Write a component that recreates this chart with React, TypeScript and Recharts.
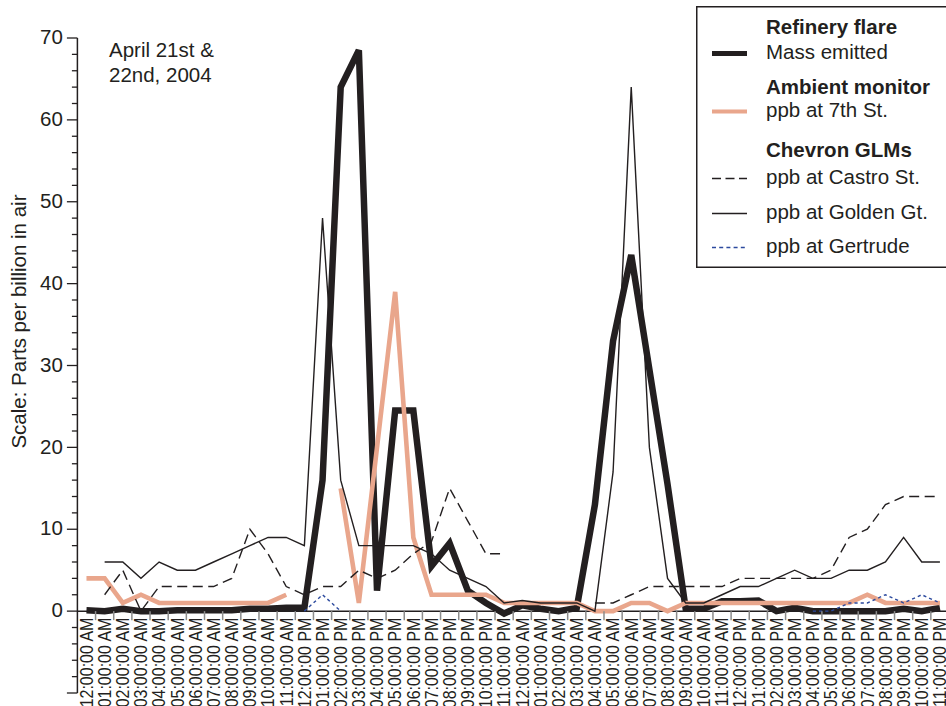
import React from 'react';
import { LineChart, Line, XAxis, YAxis, ReferenceLine, Legend } from 'recharts';

// ---------- data ----------
const timeLabels: string[] = [
  '12:00:00 AM', '01:00:00 AM', '02:00:00 AM', '03:00:00 AM', '04:00:00 AM', '05:00:00 AM',
  '06:00:00 AM', '07:00:00 AM', '08:00:00 AM', '09:00:00 AM', '10:00:00 AM', '11:00:00 AM',
  '12:00:00 PM', '01:00:00 PM', '02:00:00 PM', '03:00:00 PM', '04:00:00 PM', '05:00:00 PM',
  '06:00:00 PM', '07:00:00 PM', '08:00:00 PM', '09:00:00 PM', '10:00:00 PM', '11:00:00 PM',
  '12:00:00 AM', '01:00:00 AM', '02:00:00 AM', '03:00:00 AM', '04:00:00 AM', '05:00:00 AM',
  '06:00:00 AM', '07:00:00 AM', '08:00:00 AM', '09:00:00 AM', '10:00:00 AM', '11:00:00 AM',
  '12:00:00 PM', '01:00:00 PM', '02:00:00 PM', '03:00:00 PM', '04:00:00 PM', '05:00:00 PM',
  '06:00:00 PM', '07:00:00 PM', '08:00:00 PM', '09:00:00 PM', '10:00:00 PM', '11:00:00 PM',
];

const massEmitted: (number | null)[] = [
  0.1, 0, 0.3, 0, 0, 0.1, 0.1, 0.1, 0.1, 0.3, 0.3, 0.4,
  0.4, 16, 64, 68.5, 2.5, 24.5, 24.5, 5.5, 8.3, 2.5, 1, -0.3,
  0.7, 0.3, 0, 0.4, 13, 33, 43.5, 29.5, 15.5, 0.3, 0.3, 1.2,
  1.2, 1.3, 0, 0.4, 0, 0, 0, 0, 0, 0.3, 0, 0.4,
];

const ppb7thSt: (number | null)[] = [
  4, 4, 1, 2, 1, 1, 1, 1, 1, 1, 1, 2,
  null, null, 15, 1, 20, 39, 9, 2, 2, 2, 2, 1,
  1, 1, 1, 1, 0, 0, 1, 1, 0, 1, 1, 1,
  1, 1, 1, 1, 1, 1, 1, 2, 1, 1, 1, 1,
];

const ppbCastro: (number | null)[] = [
  null, 2, 5, 0, 3, 3, 3, 3, 4, 10, 7, 3,
  2, 3, 3, 5, 4, 5, 7, 8.5, 15, 11, 7, 7,
  null, null, null, null, 1, 1, 2, 3, 3, 3, 3, 3,
  4, 4, 4, 4, 4, 5, 9, 10, 13, 14, 14, 14,
];

const ppbGolden: (number | null)[] = [
  null, 6, 6, 4, 6, 5, 5, 6, 7, 8, 9, 9,
  8, 48, 16, 8, 8, 8, 8, 7, 5, 4, 3, 1,
  1.3, 1, 1, 1, 0, 17, 64, 20, 4, 1, 1, 2,
  3, 3, 4, 5, 4, 4, 5, 5, 6, 9, 6, 6,
];

const ppbGertrude: (number | null)[] = [
  null, null, null, null, null, null, null, null, null, null, null, null,
  0, 2, 0, null, null, null, null, null, null, null, null, null,
  null, null, null, null, null, null, null, null, null, null, null, null,
  null, null, null, null, 0, 0, 1, 1, 2, 1, 2, 1,
];

const yTickValues: number[] = [
  -10, -8, -6, -4, -2, 0, 2, 4, 6, 8, 10, 12, 14, 16, 18, 20, 22, 24, 26, 28, 30,
  32, 34, 36, 38, 40, 42, 44, 46, 48, 50, 52, 54, 56, 58, 60, 62, 64, 66, 68, 70,
];

const yAxisTitle = 'Scale: Parts per billion in air';
const noteLines: string[] = ['April 21st &', '22nd, 2004'];

const legendGroups = [
  { title: 'Refinery flare', keys: ['mass'] },
  { title: 'Ambient monitor', keys: ['seventh'] },
  { title: 'Chevron GLMs', keys: ['castro', 'golden', 'gertrude'] },
];

// ---------- styles ----------
const INK = '#231f20';
const FONT = '"Liberation Sans", Arial, Helvetica, sans-serif';
const FS = 20.5;
const X_FS = 16;

const series = [
  { key: 'mass', name: 'Mass emitted', color: INK, width: 6.5, dash: undefined as string | undefined, legendWidth: 5, legendDash: undefined as string | undefined },
  { key: 'seventh', name: 'ppb at 7th St.', color: '#e9a68c', width: 4.6, dash: undefined, legendWidth: 4, legendDash: undefined },
  { key: 'castro', name: 'ppb at Castro St.', color: INK, width: 1.4, dash: '10 5.5', legendWidth: 1.4, legendDash: '9 4.5' },
  { key: 'golden', name: 'ppb at Golden Gt.', color: INK, width: 1.4, dash: undefined, legendWidth: 1.4, legendDash: undefined },
  { key: 'gertrude', name: 'ppb at Gertrude', color: '#2c4a9e', width: 1.4, dash: '3.2 3', legendWidth: 1.4, legendDash: '4 3.2' },
];

const data = timeLabels.map((t, i) => ({
  time: t,
  mass: massEmitted[i],
  seventh: ppb7thSt[i],
  castro: ppbCastro[i],
  golden: ppbGolden[i],
  gertrude: ppbGertrude[i],
}));

// ---------- layout ----------
const CHART_W = 950;
const CHART_H = 706;
const MARGIN = { top: 38, right: 1, bottom: 0, left: 17.4 };
const Y_AXIS_W = 60;
const X_AXIS_H = 13;
const PLOT_W = CHART_W - MARGIN.left - Y_AXIS_W - MARGIN.right;
const PLOT_H = CHART_H - MARGIN.top - X_AXIS_H - MARGIN.bottom;
const Y_MIN = -10;
const Y_MAX = 70;
const BAND = PLOT_W / timeLabels.length;
const ZERO_FROM_BOTTOM = ((0 - Y_MIN) / (Y_MAX - Y_MIN)) * PLOT_H;

const XTick = (props: any) => {
  const { x, y, payload, index } = props;
  const y0 = y - ZERO_FROM_BOTTOM;
  const ty = y0 + 6.5;
  return (
    <g>
      {index > 0 && (
        <line x1={x - BAND / 2} x2={x - BAND / 2} y1={y0} y2={y0 + 9} stroke="#8c8c8c" strokeWidth={1.5} />
      )}
      <text
        x={0}
        y={0}
        transform={`translate(${x + 6.3}, ${ty}) scale(1.1, 1) rotate(-90)`}
        textAnchor="end"
        fontSize={X_FS}
        fontFamily={FONT}
        fill={INK}
      >
        {payload.value}
      </text>
    </g>
  );
};

const YTick = (props: any) => {
  const { x, y, payload } = props;
  const v = payload.value as number;
  const major = v % 10 === 0;
  return (
    <g>
      <line x1={x - (major ? 10.5 : 5.5)} x2={x} y1={y} y2={y} stroke={INK} strokeWidth={1.3} />
      {major && v >= 0 && (
        <text x={x - 14.5} y={y} dy="0.3em" textAnchor="end" fontSize={FS} fontFamily={FONT} fill={INK}>
          {v}
        </text>
      )}
    </g>
  );
};

const YTitle = (props: any) => {
  const vb = props.viewBox || {};
  const cx = (vb.x ?? MARGIN.left) + 1.8;
  const top = vb.y ?? MARGIN.top;
  const h = vb.height ?? PLOT_H;
  const cy = top + (h * (Y_MAX - 0)) / (Y_MAX - Y_MIN) / 2 - 3;
  return (
    <text
      x={cx}
      y={cy}
      transform={`rotate(-90, ${cx}, ${cy})`}
      textAnchor="middle"
      dy="0.35em"
      fontSize={FS}
      fontFamily={FONT}
      fill={INK}
    >
      {yAxisTitle}
    </text>
  );
};

const LEG_W = 262;
const LEG_H = 262;
const rowBaselines = { title: [28, 88, 151], item: [53, 111, 178, 213, 247] };

const LegendBox = () => {
  let itemIdx = 0;
  return (
    <svg width={LEG_W} height={LEG_H} style={{ display: 'block', fontFamily: FONT }}>
      <rect x={0.75} y={0.75} width={LEG_W - 1.5} height={LEG_H - 1.5} fill="#fff" stroke={INK} strokeWidth={1.5} />
      {legendGroups.map((g, gi) => (
        <g key={g.title}>
          <text x={70} y={rowBaselines.title[gi]} fontSize={FS} fontWeight="bold" fill={INK}>
            {g.title}
          </text>
          {g.keys.map((k) => {
            const s = series.find((q) => q.key === k)!;
            const by = rowBaselines.item[itemIdx++];
            return (
              <g key={k}>
                <line
                  x1={16}
                  x2={51}
                  y1={by - 5.5}
                  y2={by - 5.5}
                  stroke={s.color}
                  strokeWidth={s.legendWidth}
                  strokeDasharray={s.legendDash}
                />
                <text x={70} y={by} fontSize={FS} fill={INK}>
                  {s.name}
                </text>
              </g>
            );
          })}
        </g>
      ))}
    </svg>
  );
};

export default function App() {
  return (
    <div style={{ position: 'relative', width: CHART_W, height: CHART_H, background: '#fff', overflow: 'hidden' }}>
      <style>{'body{margin:0;overflow:hidden;background:#fff}'}</style>
      <LineChart width={CHART_W} height={CHART_H} data={data} margin={MARGIN}>
        <XAxis
          dataKey="time"
          type="category"
          interval={0}
          height={X_AXIS_H}
          axisLine={false}
          tickLine={false}
          tickSize={0}
          tickMargin={0}
          padding={{ left: BAND / 2, right: BAND / 2 }}
          tick={(p: any) => <XTick {...p} />}
        />
        <YAxis
          type="number"
          domain={[Y_MIN, Y_MAX]}
          ticks={yTickValues}
          interval={0}
          width={Y_AXIS_W}
          tickSize={0}
          tickMargin={0}
          tickLine={false}
          axisLine={{ stroke: INK, strokeWidth: 1.5 }}
          tick={(p: any) => <YTick {...p} />}
          label={{ content: (p: any) => <YTitle {...p} /> }}
        />
        <ReferenceLine y={0} stroke={INK} strokeWidth={1.5} />
        {series.map((s) => (
          <Line
            key={s.key}
            dataKey={s.key}
            name={s.name}
            type="linear"
            stroke={s.color}
            strokeWidth={s.width}
            strokeDasharray={s.dash}
            dot={false}
            activeDot={false}
            connectNulls={false}
            isAnimationActive={false}
          />
        ))}
        <Legend
          layout="vertical"
          align="center"
          verticalAlign="middle"
          content={() => <LegendBox />}
          wrapperStyle={{ position: 'absolute', left: 696, top: 6, width: LEG_W, height: LEG_H }}
        />
      </LineChart>
      <svg
        width={260}
        height={100}
        style={{ position: 'absolute', left: 0, top: 0, pointerEvents: 'none' }}
      >
        {noteLines.map((t, i) => (
          <text key={t} x={109} y={57 + i * 25} fontSize={FS} fontFamily={FONT} fill={INK}>
            {t}
          </text>
        ))}
      </svg>
    </div>
  );
}
